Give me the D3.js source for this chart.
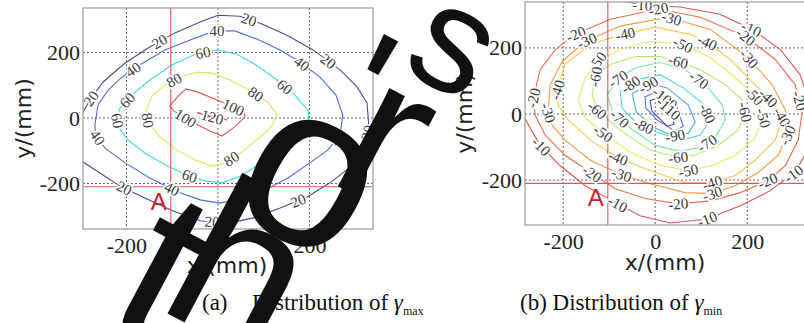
<!DOCTYPE html>
<html>
<head>
<meta charset="utf-8">
<script src="https://cdn.jsdelivr.net/npm/d3@7"></script>
<style>
  body { margin: 0; background: #fff; }
  svg { display: block; }
</style>
</head>
<body>
<script>
const W = 804, H = 323;

// shared axis ticks and the marked point A (mm)
const tickValues = [-200, 0, 200];
const pointA = [-103, -210];

// (a) gamma max: contour levels and traced contour lines (x, y in mm)
const maxLevels = [20, 40, 60, 80, 100, 120];
const max20 = [[-320, 0], [-302, 0], [-280, 55], [-251, 110], [-203, 168], [-149, 217], [-94, 260], [-39, 293], [0, 314], [48, 311], [96, 287], [151, 253], [208, 208], [267, 147], [304, 95], [326, 46], [330, -27], [317, -98], [289, -150], [245, -198], [195, -241], [136, -275], [77, -305], [26, -321], [-39, -314], [-98, -284], [-160, -244], [-214, -208], [-258, -168], [-302, -128], [-320, -128]];
const max40 = [[-269, -21], [-262, 40], [-240, 85], [-210, 125], [-171, 162], [-116, 208], [-61, 238], [-7, 266], [37, 266], [85, 241], [136, 208], [179, 171], [223, 125], [258, 70], [273, 9], [267, -52], [240, -98], [201, -137], [153, -183], [103, -220], [48, -247], [4, -260], [-39, -250], [-87, -226], [-149, -183], [-203, -137], [-247, -92], [-267, -52]];
const max60 = [[-221, 0], [-214, 31], [-188, 70], [-149, 116], [-101, 162], [-50, 195], [-2, 208], [42, 195], [87, 159], [129, 116], [168, 70], [197, 24], [199, -21], [175, -61], [136, -98], [96, -134], [55, -174], [9, -198], [-28, -192], [-68, -174], [-116, -143], [-160, -107], [-197, -67], [-216, -31]];
const max80 = [[-157, 24], [-144, 67], [-116, 101], [-83, 125], [-46, 140], [-13, 137], [26, 116], [70, 85], [109, 49], [129, 12], [118, -24], [87, -64], [52, -104], [15, -137], [-13, -147], [-50, -128], [-94, -95], [-131, -52], [-153, -9]];
const max100 = [[-105, 37], [-87, 67], [-70, 89], [-44, 79], [4, 52], [57, 18], [59, 3], [33, -31], [9, -55], [-17, -40], [-57, -12], [-96, 21]];
const max120 = [[-45, 16], [-12, 7], [20, -6], [-10, 2]];
const maxLabels = [[20, 66, 293], [20, -127, 232], [40, -2, 260], [60, -33, 201], [20, 240, 171], [40, 173, 147], [40, -177, 131], [80, -94, 110], [60, 140, 85], [80, 77, 61], [20, -273, 55], [60, -192, 46], [100, 33, 31], [120, -13, 0], [60, -214, -6], [80, -149, -6], [100, -77, -15], [40, -262, -58], [80, 31, -128], [60, 131, -113], [40, 260, -58], [20, 321, -43], [60, -61, -174], [20, -210, -229], [40, -105, -229], [40, 96, -229], [20, 175, -250], [20, -13, -321]];

// (b) gamma min
const minLevels = [-10, -20, -30, -40, -50, -60, -70, -80, -90, -100, -110];
const min10 = [[-320, 360], [-75, 345], [-33, 330], [54, 324], [141, 302], [211, 256], [272, 195], [315, 119], [341, 12], [337, -95], [304, -177], [250, -232], [185, -278], [113, -318], [33, -330], [-33, -308], [-93, -263], [-152, -217], [-207, -156], [-250, -95], [-285, -10], [-320, 20]];
const min20 = [[-265, 49], [-250, 134], [-217, 195], [-174, 241], [-98, 287], [7, 318], [98, 293], [196, 235], [261, 165], [304, 89], [320, 12], [311, -79], [283, -156], [246, -201], [185, -238], [120, -263], [50, -272], [-22, -256], [-87, -226], [-137, -180], [-196, -125], [-239, -64], [-261, -3]];
const min30 = [[-233, 6], [-228, 89], [-202, 159], [-152, 220], [-76, 266], [28, 293], [120, 256], [202, 171], [254, 89], [283, 12], [289, -58], [267, -125], [224, -177], [174, -217], [124, -241], [65, -238], [-11, -211], [-80, -180], [-141, -140], [-196, -79], [-224, -34]];
const min40 = [[-213, 73], [-196, 150], [-141, 211], [-70, 241], [0, 263], [76, 241], [113, 217], [163, 165], [217, 89], [261, 27], [276, -9], [261, -79], [217, -140], [174, -186], [124, -208], [65, -208], [-11, -171], [-83, -131], [-141, -79], [-189, -18], [-211, 27]];
const min50 = [[-167, 43], [-152, 110], [-126, 159], [-76, 195], [-11, 220], [59, 211], [120, 171], [180, 104], [224, 43], [235, -12], [217, -73], [174, -125], [124, -156], [72, -171], [11, -156], [-54, -116], [-113, -58], [-152, -12]];
const min60 = [[-137, 58], [-130, 113], [-98, 150], [-43, 174], [11, 174], [50, 159], [98, 134], [152, 89], [189, 43], [196, 3], [180, -49], [137, -95], [87, -125], [50, -131], [-11, -110], [-76, -49], [-126, 12]];
const min70 = [[-104, 58], [-83, 104], [-43, 140], [11, 156], [65, 134], [109, 89], [146, 27], [152, -18], [130, -73], [98, -101], [54, -113], [0, -95], [-54, -43], [-93, 6]];
const min80 = [[-76, 67], [-39, 104], [11, 119], [61, 79], [104, 31], [120, -18], [98, -64], [59, -79], [4, -55], [-43, -24], [-72, 18]];
const min90 = [[-50, 61], [-11, 92], [26, 79], [72, 27], [87, -24], [72, -58], [39, -67], [-4, -40], [-41, 6]];
const min100 = [[-22, 52], [4, 67], [48, 18], [61, -37], [43, -52], [4, -18], [-20, 18]];
const min110 = [[-11, 40], [4, 49], [33, 12], [41, -31], [26, -37], [-7, 9]];
const minLabels = [[-10, -28, 327], [-20, 7, 324], [-30, 37, 296], [-20, -174, 247], [-30, -148, 220], [-40, -65, 241], [-50, 59, 205], [-40, 113, 217], [-60, 50, 159], [-10, 211, 263], [-20, 196, 232], [-30, 207, 171], [-50, -126, 159], [-60, -130, 113], [-70, -80, 104], [-80, -48, 79], [-90, -11, 79], [-100, 22, 49], [-110, 26, 12], [-70, 91, 95], [-80, 115, 3], [-60, 196, 6], [-50, 211, 49], [-40, 246, 49], [-50, 235, -12], [-40, 276, -9], [-30, 287, -64], [-20, 320, 43], [-20, -265, 49], [-40, -213, 73], [-30, -233, 3], [-10, -250, -101], [-60, -126, 12], [-70, -70, -3], [-80, -22, -27], [-90, 43, -64], [-50, -113, -58], [-70, 113, -89], [-60, 50, -131], [-40, -80, -131], [-50, 72, -171], [-20, -137, -180], [-30, -72, -180], [-40, 124, -208], [-30, 124, -241], [-20, 50, -272], [-10, -80, -269], [-10, 113, -318], [-20, 246, -208], [-10, 300, -180]];

// line colours, jet-like (low = blue, high = red)
const maxColors = ['#4a4a9e', '#4f6ddc', '#45d6dc', '#e4e45a', '#e05555', '#a83030'];
const minColors = ['#e05252', '#ee6c48', '#f29a44', '#f3c84c', '#e6e85a', '#b4e86a', '#76e6a8', '#4fd6e0', '#52a6ec', '#5470dc', '#4040bc'];

const svg = d3.select('body').append('svg')
  .attr('width', W)
  .attr('height', H);

svg.append('rect').attr('width', W).attr('height', H).attr('fill', '#fff');

function snapToLine(pts, sx, sy, px, py) {
  let best = { d: Infinity };
  const n = pts.length;
  for (let i = 0; i < n; i++) {
    const a = [sx(pts[i][0]), sy(pts[i][1])];
    const b = [sx(pts[(i + 1) % n][0]), sy(pts[(i + 1) % n][1])];
    const dx = b[0] - a[0], dy = b[1] - a[1];
    const L = dx * dx + dy * dy;
    let t = L ? ((px - a[0]) * dx + (py - a[1]) * dy) / L : 0;
    t = Math.max(0, Math.min(1, t));
    const qx = a[0] + t * dx, qy = a[1] + t * dy;
    const d = (qx - px) ** 2 + (qy - py) ** 2;
    if (d < best.d) best = { d, x: qx, y: qy, ang: Math.atan2(dy, dx) * 180 / Math.PI };
  }
  if (best.ang > 90) best.ang -= 180;
  if (best.ang < -90) best.ang += 180;
  return best;
}

function drawPanel(cfg) {
  const x = d3.scaleLinear().domain(cfg.xDomain).range([cfg.left, cfg.right]);
  const y = d3.scaleLinear().domain(cfg.yDomain).range([cfg.bottom, cfg.top]);
  const g = svg.append('g');

  g.append('clipPath').attr('id', cfg.id)
    .append('rect')
    .attr('x', cfg.left).attr('y', cfg.top)
    .attr('width', cfg.right - cfg.left).attr('height', cfg.bottom - cfg.top);

  const plot = g.append('g').attr('clip-path', 'url(#' + cfg.id + ')');

  // dotted grid
  plot.selectAll('line.gx').data(tickValues).join('line')
    .attr('class', 'gx')
    .attr('x1', (d) => x(d)).attr('x2', (d) => x(d))
    .attr('y1', cfg.top).attr('y2', cfg.bottom);
  plot.selectAll('line.gy').data(tickValues).join('line')
    .attr('class', 'gy')
    .attr('y1', (d) => y(d)).attr('y2', (d) => y(d))
    .attr('x1', cfg.left).attr('x2', cfg.right);
  plot.selectAll('line.gx, line.gy')
    .attr('stroke', '#555').attr('stroke-width', 0.9).attr('stroke-dasharray', '2,2');

  // contours
  const line = d3.line().x((d) => x(d[0])).y((d) => y(d[1])).curve(d3.curveLinearClosed);
  plot.selectAll('path.c').data(cfg.contours).join('path')
    .attr('class', 'c')
    .attr('d', line)
    .attr('fill', 'none')
    .attr('stroke', (d, i) => cfg.colors[i])
    .attr('stroke-width', 1.1);

  // point A cross lines
  plot.append('line')
    .attr('x1', x(pointA[0])).attr('x2', x(pointA[0]))
    .attr('y1', cfg.top).attr('y2', cfg.bottom)
    .attr('stroke', '#e8505a').attr('stroke-width', 1.1);
  plot.append('line')
    .attr('y1', y(pointA[1])).attr('y2', y(pointA[1]))
    .attr('x1', cfg.left).attr('x2', cfg.right)
    .attr('stroke', '#e8505a').attr('stroke-width', 1.1);

  // contour labels snapped onto their lines
  const labs = cfg.labels.map((l) => {
    const k = cfg.levels.indexOf(l[0]);
    const s = snapToLine(cfg.contours[k], x, y, x(l[1]), y(l[2]));
    return { text: String(l[0]), x: s.x, y: s.y, ang: s.ang };
  });
  plot.selectAll('text.lab').data(labs).join('text')
    .attr('class', 'lab')
    .attr('transform', (d) => 'translate(' + d.x + ',' + d.y + ') rotate(' + d.ang + ')')
    .attr('text-anchor', 'middle')
    .attr('dy', '0.35em')
    .attr('font-family', '"Liberation Serif", "Times New Roman", serif')
    .attr('font-size', 15)
    .attr('fill', '#3a3a3a')
    .attr('stroke', '#fff')
    .attr('stroke-width', 3.5)
    .attr('paint-order', 'stroke')
    .text((d) => d.text);

  // "A" marker
  g.append('text')
    .attr('x', x(pointA[0]) - 4).attr('y', y(pointA[1]) + 23)
    .attr('text-anchor', 'end')
    .attr('font-family', '"Liberation Sans", Arial, sans-serif')
    .attr('font-size', 24)
    .attr('fill', '#c8222e')
    .text('A');

  // frame
  g.append('rect')
    .attr('x', cfg.left).attr('y', cfg.top)
    .attr('width', cfg.right - cfg.left).attr('height', cfg.bottom - cfg.top)
    .attr('fill', 'none').attr('stroke', '#999').attr('stroke-width', 1.2);

  // axes (tick labels only)
  const ax = g.append('g')
    .attr('transform', 'translate(0,' + cfg.bottom + ')')
    .call(d3.axisBottom(x).tickValues(tickValues).tickSize(0).tickPadding(8));
  const ay = g.append('g')
    .attr('transform', 'translate(' + cfg.left + ',0)')
    .call(d3.axisLeft(y).tickValues(tickValues).tickSize(0).tickPadding(3));
  [ax, ay].forEach((a) => {
    a.select('.domain').remove();
    a.selectAll('text')
      .attr('font-family', '"Liberation Serif", "Times New Roman", serif')
      .attr('font-size', 22)
      .attr('fill', '#222')
      .text((d) => (d < 0 ? '-' : '') + Math.abs(d));
  });

  // axis titles
  g.append('text')
    .attr('x', (cfg.left + cfg.right) / 2 - 1).attr('y', cfg.xTitleY)
    .attr('text-anchor', 'middle')
    .attr('font-family', '"DejaVu Sans", sans-serif')
    .attr('font-size', 22)
    .attr('fill', '#222')
    .text('x/(mm)');
  g.append('text')
    .attr('transform', 'translate(' + cfg.yTitleX + ',' + (cfg.top + cfg.bottom) / 2 + ') rotate(-90)')
    .attr('text-anchor', 'middle')
    .attr('font-family', '"DejaVu Sans", sans-serif')
    .attr('font-size', 22)
    .attr('fill', '#222')
    .text('y/(mm)');
}

drawPanel({
  id: 'clipA',
  left: 83, right: 373, top: 8, bottom: 229,
  xDomain: [-295, 339], yDomain: [-339, 336],
  levels: maxLevels,
  contours: [max20, max40, max60, max80, max100, max120],
  colors: maxColors,
  labels: maxLabels,
  xTitleY: 273, yTitleX: 31
});

drawPanel({
  id: 'clipB',
  left: 525, right: 807, top: 2, bottom: 225,
  xDomain: [-283, 330], yDomain: [-336, 339],
  levels: minLevels,
  contours: [min10, min20, min30, min40, min50, min60, min70, min80, min90, min100, min110],
  colors: minColors,
  labels: minLabels,
  xTitleY: 270, yTitleX: 472
});

// captions
const serif = '"Liberation Serif", "Times New Roman", serif';
const capA = svg.append('g').attr('font-family', serif).attr('font-size', 23).attr('fill', '#111');
capA.append('text').attr('x', 202).attr('y', 310).text('(a)');
const ta = capA.append('text').attr('x', 252).attr('y', 310);
ta.append('tspan').text('Distribution of ');
ta.append('tspan').attr('font-style', 'italic').text('γ');
ta.append('tspan').attr('font-size', 12).attr('dy', 5).text('max');

const capB = svg.append('g').attr('font-family', serif).attr('font-size', 23).attr('fill', '#111');
const tb = capB.append('text').attr('x', 520).attr('y', 310);
tb.append('tspan').text('(b) Distribution of ');
tb.append('tspan').attr('font-style', 'italic').text('γ');
tb.append('tspan').attr('font-size', 12).attr('dy', 5).text('min');

// "Author's" watermark drawn over everything; glyphs shrink toward the top right
const mark = svg.append('g')
  .attr('font-family', '"Liberation Sans", Arial, sans-serif')
  .attr('fill', '#111')
  .attr('text-anchor', 'middle');
[['A', -160, 560, 250], ['u', -70, 480, 240], ['t', 128, 338, 230], ['h', 208, 335, 220],
 ['o', 279, 237, 230], ['r', 356, 196, 210], ["'", 333, 147, 180], ['s', 432, 86, 150]]
  .forEach(([ch, px, py, fs]) => {
    mark.append('text')
      .attr('transform', 'translate(' + px + ',' + py + ') rotate(28)')
      .attr('font-size', fs)
      .text(ch);
  });
</script>
</body>
</html>
